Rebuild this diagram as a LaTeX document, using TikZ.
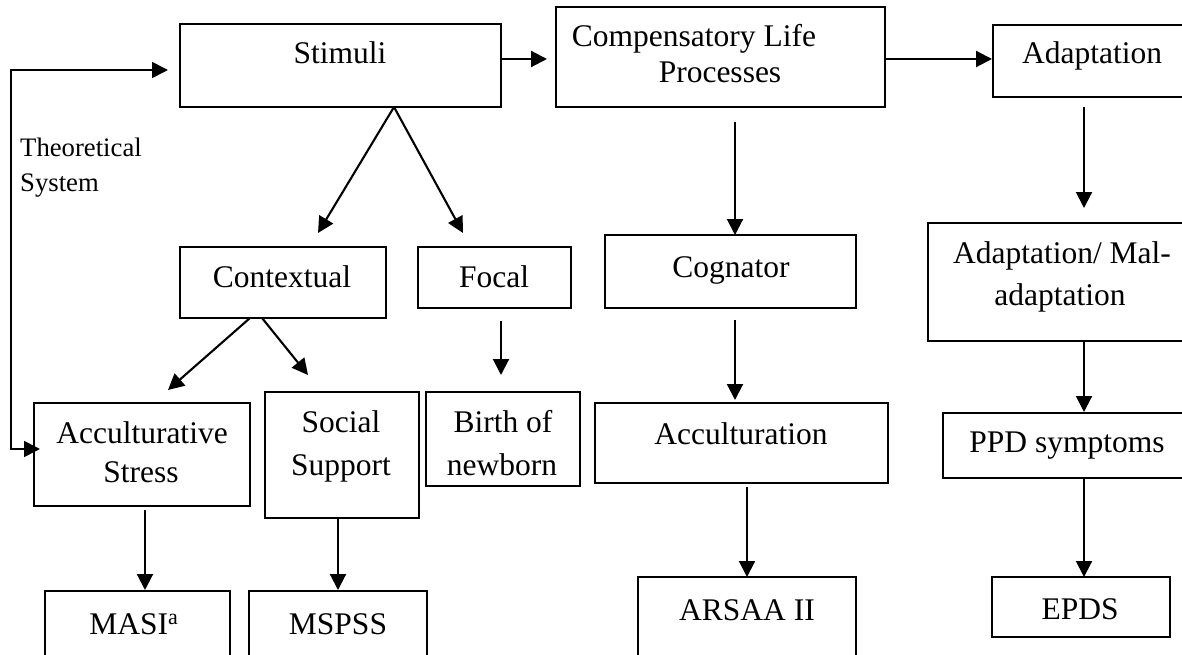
\documentclass[tikz,border=0pt]{standalone}
\usepackage{fontspec}
\setmainfont{Liberation Serif}
\usetikzlibrary{arrows.meta,calc}
\newcommand\mybox[5]{\node[box,minimum width={(#4-#2)*1pt},minimum height={(#5-#3)*1pt}] (#1) at (#2,#3) {};}
\begin{document}
\begin{tikzpicture}[x=1pt,y=-1pt,
  box/.style={draw, line width=1.9pt, inner sep=0pt, outer sep=0pt, anchor=north west},
  txt/.style={inner sep=0pt, anchor=base, font=\fontsize{31.5pt}{38pt}\selectfont},
  small/.style={inner sep=0pt, anchor=base west, font=\fontsize{26.7pt}{32pt}\selectfont},
  arr/.style={line width=2.1pt, -{Triangle[length=16pt,width=16pt]}},
  arrb/.style={line width=1.7pt, {Triangle[length=16pt,width=16pt]}-{Triangle[length=16pt,width=16pt]}},
]
\useasboundingbox (0,0) rectangle (1182,655);
\clip (0,0) rectangle (1182,655);
% boxes
\mybox{stim}{180}{24}{501}{107}
\mybox{comp}{556}{7}{885}{107}
\mybox{adapt}{993}{25}{1210}{97}
\mybox{context}{180}{247}{386}{318}
\mybox{focal}{418}{247}{571}{308}
\mybox{cogn}{605}{235}{856}{308}
\mybox{adml}{928}{223}{1210}{341}
\mybox{acst}{34}{403}{250}{506}
\mybox{socs}{265}{392}{419}{518}
\mybox{birth}{426}{392}{580}{486}
\mybox{accu}{595}{403}{888}{483}
\mybox{ppd}{943}{413}{1210}{478}
\mybox{masi}{45}{591}{230}{690}
\mybox{mspss}{249}{591}{427}{690}
\mybox{arsaa}{638}{577}{856}{690}
\mybox{epds}{992}{577}{1170}{637}
% texts
\node[txt] (t-stim) at (340,64) {Stimuli};
\node[txt] (t-comp1) at (694,47) {Compensatory Life};
\node[txt] (t-comp2) at (720,83) {Processes};
\node[txt] (t-adapt) at (1092,64) {Adaptation};
\node[small] (t-theo1) at (20,157) {Theoretical};
\node[small] (t-theo2) at (20,192) {System};
\node[txt] (t-context) at (282,287) {Contextual};
\node[txt] (t-focal) at (494,287) {Focal};
\node[txt] (t-cogn) at (731,277) {Cognator};
\node[txt] (t-adml1) at (1062,263) {Adaptation/ Mal-};
\node[txt] (t-adml2) at (1060,305) {adaptation};
\node[txt] (t-acst1) at (142,443) {Acculturative};
\node[txt] (t-acst2) at (141,482) {Stress};
\node[txt] (t-socs1) at (341,432) {Social};
\node[txt] (t-socs2) at (341,475) {Support};
\node[txt] (t-birth1) at (503,432) {Birth of};
\node[txt] (t-birth2) at (502,475) {newborn};
\node[txt] (t-accu) at (741,444) {Acculturation};
\node[txt] (t-ppd) at (1067,452) {PPD symptoms};
\node[txt] (t-masi) at (134,634) {MASI\textsuperscript{a}};
\node[txt] (t-mspss) at (338,634) {MSPSS};
\node[txt] (t-arsaa) at (747,620) {ARSAA II};
\node[txt] (t-epds) at (1080,619) {EPDS};
% loop coordinates
\coordinate (loopb) at (11,449);
\coordinate (loopt) at (11,70);
% connectors
\draw[arrb, shorten <=-6pt, shorten >=12pt] (acst.west|-loopb) -- (loopb) -- (loopt) -- (stim.west|-loopt);
\draw[arr, shorten >=9pt] (stim.east|-0,59) -- (comp.west|-0,59);
\draw[arr, shorten >=1pt] (comp.east|-0,59) -- (adapt.west|-0,59);
\draw[arr] (stim.south-|394,0) -- ($(context.north)+(35,-14)$);
\draw[arr] (stim.south-|394,0) -- ($(focal.north)+(-31.5,-14)$);
\draw[arr] ($(context.south)+(-33,0)$) -- ($(acst.north)+(26,-13)$);
\draw[arr] ($(context.south)+(-21,0)$) -- ($(socs.north)+(-34,-17)$);
\draw[arr, shorten <=13pt, shorten >=17pt] (focal.south-|501,0) -- (birth.north-|501,0);
\draw[arr, shorten <=4pt, shorten >=1pt] (acst.south-|145,0) -- (masi.north-|145,0);
\draw[arr, shorten >=1pt] (socs.south-|338,0) -- (mspss.north-|338,0);
\draw[arr, shorten <=15pt] (comp.south-|735,0) -- (cogn.north-|735,0);
\draw[arr, shorten <=12pt, shorten >=3pt] (cogn.south-|735,0) -- (accu.north-|735,0);
\draw[arr, shorten <=4pt] (accu.south-|747,0) -- (arsaa.north-|747,0);
\draw[arr, shorten <=10pt, shorten >=15pt] (adapt.south-|1084,0) -- (adml.north-|1084,0);
\draw[arr, shorten >=1pt] (adml.south-|1084,0) -- (ppd.north-|1084,0);
\draw[arr] (ppd.south-|1084,0) -- (epds.north-|1084,0);
\end{tikzpicture}
\end{document}
